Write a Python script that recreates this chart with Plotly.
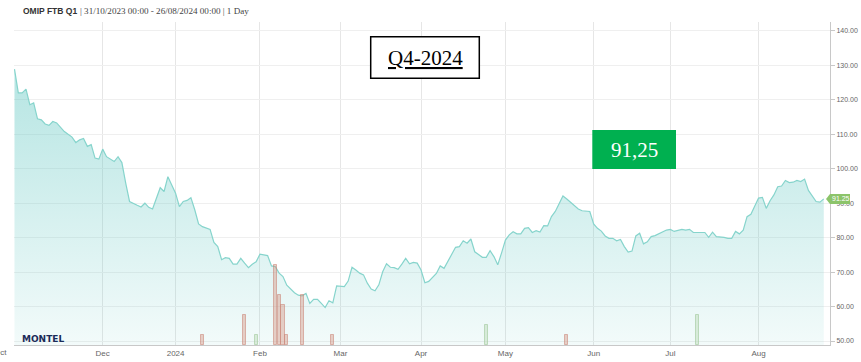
import pandas as pd
import plotly.graph_objects as go

# ---------------- data ----------------
holidays = ["2023-12-25", "2023-12-26", "2024-01-01"]
start_date = "2023-10-31"
end_date = "2024-08-26"

# trading-day number (0 = 31/10/2023) and closing price
day_idx = [0, 1, 2, 3, 4, 5, 6, 7, 8, 9, 10, 11, 13, 15, 16, 17, 18, 19, 20, 21,
           22, 23, 24, 26, 27, 28, 29, 30, 32, 33, 34, 35, 36, 38, 39, 40, 41, 42, 43, 44,
           45, 46, 47, 48, 49, 51, 52, 53, 54, 55, 56, 57, 58, 59, 60, 61, 62, 63, 64, 65,
           66, 67, 68, 69, 70, 71, 73, 74, 75, 76, 77, 78, 79, 80, 81, 82, 83, 84, 85, 86,
           87, 88, 89, 90, 91, 92, 93, 94, 95, 96, 97, 98, 99, 100, 101, 102, 103, 104, 105, 106,
           107, 108, 110, 111, 112, 114, 115, 116, 117, 118, 119, 120, 121, 122, 123, 124, 125, 126, 127, 128,
           129, 130, 131, 132, 133, 134, 135, 136, 137, 138, 139, 140, 141, 142, 143, 144, 145, 147, 148, 149,
           150, 151, 152, 153, 154, 155, 156, 157, 158, 159, 160, 161, 162, 163, 164, 165, 166, 167, 169, 170,
           171, 172, 174, 175, 176, 177, 178, 180, 181, 182, 183, 184, 185, 186, 187, 188, 189, 190, 191, 192,
           193, 194, 195, 196, 197, 198, 199, 200, 201, 202, 203, 204, 205, 206, 207, 209, 210, 211]
price = [128.9, 122.0, 122.0, 123.1, 118.6, 119.1, 114.5, 114.2, 113.0, 112.6, 113.7, 113.3, 110.8, 109.2, 107.6, 108.4, 108.8, 106.5, 107.0, 103.1,
         102.8, 105.7, 103.5, 102.1, 103.5, 101.8, 95.8, 90.5, 89.4, 88.9, 90.0, 88.8, 88.3, 94.5, 93.4, 97.7, 95.3, 92.9, 89.0, 90.5,
         90.8, 91.6, 88.1, 84.0, 83.2, 82.4, 78.6, 77.4, 73.6, 74.2, 74.0, 72.3, 72.3, 74.0, 72.6, 71.3, 72.3, 73.0, 75.2, 75.0,
         74.8, 71.8, 71.6, 69.7, 68.7, 66.2, 64.0, 63.3, 63.1, 63.8, 60.9, 62.1, 62.1, 60.9, 59.7, 61.7, 61.1, 66.0, 65.8, 65.8,
         67.4, 71.4, 70.6, 69.7, 69.2, 66.8, 65.1, 64.6, 66.3, 70.1, 72.4, 71.4, 71.3, 70.8, 72.3, 74.0, 72.4, 72.8, 72.6, 70.6,
         66.9, 67.3, 69.6, 71.8, 71.1, 75.0, 77.2, 77.4, 79.1, 78.4, 79.6, 75.9, 75.0, 74.3, 74.3, 76.2, 74.5, 72.1, 75.6, 79.3,
         80.8, 81.7, 81.1, 81.1, 82.7, 82.9, 81.5, 82.0, 81.6, 83.5, 83.4, 86.1, 87.6, 90.0, 92.1, 91.2, 90.2, 88.3, 87.8, 87.6,
         87.6, 84.0, 82.7, 81.9, 80.5, 79.8, 79.8, 79.1, 79.5, 77.4, 75.8, 76.1, 80.5, 81.3, 78.2, 78.8, 80.3, 80.6, 81.8, 82.2,
         82.4, 81.8, 82.4, 82.2, 82.4, 81.5, 81.5, 81.5, 80.1, 81.6, 80.3, 80.3, 80.1, 79.8, 79.8, 81.8, 81.1, 82.2, 86.1, 86.8,
         89.0, 91.5, 91.7, 88.5, 90.7, 92.4, 94.8, 95.0, 96.6, 96.0, 96.1, 96.6, 96.3, 97.0, 93.7, 90.5, 90.3, 91.25]

# volume bars (trading-day number, volume)
vol_down_idx = [49, 60, 68, 69, 70, 71, 75, 83, 144]
vol_down = [2, 6, 16, 10, 8, 2, 10, 2, 2]
vol_up_idx = [63, 123, 178]
vol_up = [2, 4, 6]

tick_dates = ["2023-12-01", "2024-01-02", "2024-02-01", "2024-03-01", "2024-04-01",
              "2024-05-01", "2024-06-03", "2024-07-01", "2024-08-01"]
tick_labels = ["Dec", "2024", "Feb", "Mar", "Apr", "May", "Jun", "Jul", "Aug"]
y_ticks = [50, 60, 70, 80, 90, 100, 110, 120, 130, 140]

last_price = 91.25
title_bold = "OMIP FTB Q1"
title_rest = "| 31/10/2023 00:00 - 26/08/2024 00:00 | 1 Day"
contract_label = "Q4-2024"
price_label = "91,25"

# ---------------- figure ----------------
cal = pd.bdate_range(start_date, "2024-08-31", freq="C", holidays=holidays)
px_dates = [cal[i] for i in day_idx]
down_dates = [cal[i] for i in vol_down_idx]
up_dates = [cal[i] for i in vol_up_idx]

fig = go.Figure()

fig.add_trace(go.Scatter(
    x=px_dates, y=price, mode="lines",
    line=dict(color="#86d4cc", width=1.2),
    fill="tozeroy",
    fillgradient=dict(type="vertical", start=48.84, stop=130,
                      colorscale=[[0, "rgba(100,200,195,0.08)"], [1, "rgba(100,200,195,0.48)"]]),
    showlegend=False, hoverinfo="skip"))

bar_w = 0.8 * 86400000
fig.add_trace(go.Bar(
    x=down_dates, y=vol_down, yaxis="y2", width=bar_w,
    marker=dict(color="rgba(214,150,132,0.45)", line=dict(color="rgba(200,130,115,0.55)", width=1)),
    showlegend=False, hoverinfo="skip"))
fig.add_trace(go.Bar(
    x=up_dates, y=vol_up, yaxis="y2", width=bar_w,
    marker=dict(color="rgba(190,220,185,0.5)", line=dict(color="rgba(160,200,155,0.6)", width=1)),
    showlegend=False, hoverinfo="skip"))

# plot area: x 14..830, y 22..345
L, R, T, B = 14, 830, 22, 345
W, H = R - L, B - T


def pxx(x):
    return (x - L) / W


def pxy(y):
    return (B - y) / H


shapes = [
    dict(type="rect", xref="paper", yref="paper",
         x0=pxx(370.7), x1=pxx(479.3), y0=pxy(78.3), y1=pxy(36.7),
         line=dict(color="black", width=1.5), fillcolor="white", layer="above"),
    dict(type="rect", xref="paper", yref="paper",
         x0=pxx(592.3), x1=pxx(676), y0=pxy(169), y1=pxy(130),
         line=dict(width=0), fillcolor="#00b050", layer="above"),
    dict(type="path", xref="paper", yref="y", xsizemode="pixel", ysizemode="pixel",
         xanchor=1, yanchor=last_price,
         path="M -4,0 L 0,5 L 20,5 L 20,-5 L 0,-5 Z",
         line=dict(width=0), fillcolor="#8cc46a", layer="above"),
]

annotations = [
    dict(text="<b>" + title_bold + "</b>", xref="paper", yref="paper", x=pxx(20.5), y=pxy(11),
         xanchor="left", yanchor="middle", showarrow=False,
         font=dict(family="Liberation Sans", size=8.5, color="#333")),
    dict(text=title_rest, xref="paper", yref="paper", x=pxx(78), y=pxy(11),
         xanchor="left", yanchor="middle", showarrow=False,
         font=dict(family="Liberation Serif", size=9.1, color="#444")),
    dict(text="<u>" + contract_label + "</u>", xref="paper", yref="paper", x=pxx(425), y=pxy(57.5),
         xanchor="center", yanchor="middle", showarrow=False,
         font=dict(family="Liberation Serif", size=21, color="black")),
    dict(text=price_label, xref="paper", yref="paper", x=pxx(634.2), y=pxy(149.5),
         xanchor="center", yanchor="middle", showarrow=False,
         font=dict(family="Liberation Serif", size=21, color="white")),
    dict(text=f"{last_price:.2f}", xref="paper", yref="y", x=1, y=last_price,
         xanchor="left", yanchor="middle", showarrow=False, xshift=0,
         font=dict(family="Liberation Sans", size=7, color="white")),
    dict(text="<b>MONTEL</b>", xref="paper", yref="paper", x=pxx(43), y=pxy(338.5),
         xanchor="center", yanchor="middle", showarrow=False,
         font=dict(family="DejaVu Sans", size=9, color="#1b2b58")),
    dict(text="Oct", xref="paper", yref="paper", x=pxx(9), y=pxy(352),
         xanchor="right", yanchor="middle", showarrow=False,
         font=dict(family="Liberation Sans", size=8, color="#666")),
]

fig.update_layout(
    width=861, height=362, autosize=False,
    margin=dict(l=L, r=861 - R, t=T, b=362 - B, pad=0, autoexpand=False),
    paper_bgcolor="white", plot_bgcolor="white",
    bargap=0, barmode="overlay",
    shapes=shapes, annotations=annotations,
    xaxis=dict(
        type="date", automargin=False,
        range=["2023-10-30 21:00", "2024-08-27 15:00"],
        rangebreaks=[dict(bounds=["sat", "mon"]), dict(values=holidays)],
        tickvals=tick_dates, ticktext=tick_labels,
        showgrid=True, gridcolor="#e6e6e6", gridwidth=1,
        showline=True, linecolor="#c8c8c8", linewidth=1,
        ticks="", zeroline=False,
        tickfont=dict(family="Liberation Sans", size=8, color="#666"),
    ),
    yaxis=dict(
        range=[48.84, 142.6], side="right", automargin=False,
        tickvals=y_ticks, tickformat=".2f",
        showgrid=True, gridcolor="#efefef", gridwidth=1,
        showline=True, linecolor="#c8c8c8", linewidth=1,
        ticks="outside", ticklen=4, tickcolor="#c8c8c8",
        zeroline=False,
        tickfont=dict(family="Liberation Sans", size=7, color="#666"),
    ),
    yaxis2=dict(overlaying="y", range=[0, 64.6], visible=False, showgrid=False, automargin=False),
)

fig.write_html(
    "out.html",
    config=dict(displayModeBar=False, responsive=False),
    post_script="document.body.style.margin='0px';document.body.style.padding='0px';",
)
